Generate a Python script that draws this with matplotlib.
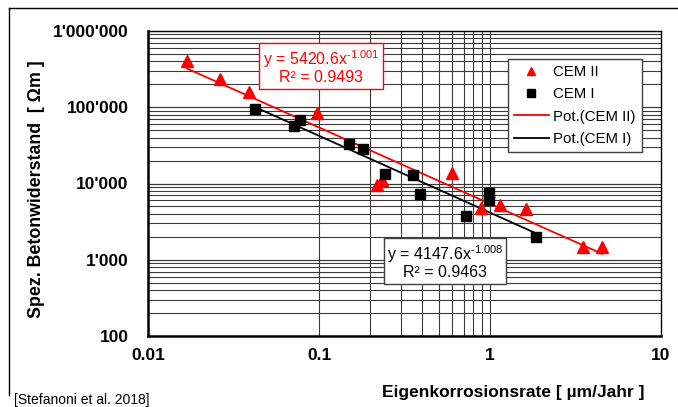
import numpy as np
import matplotlib
matplotlib.use("Agg")
import matplotlib.pyplot as plt
from matplotlib.lines import Line2D
from matplotlib.ticker import FixedLocator, NullLocator

plt.rcParams['font.family'] = ['Liberation Sans', 'DejaVu Sans']
plt.rcParams['mathtext.fontset'] = 'custom'
plt.rcParams['mathtext.rm'] = 'Liberation Sans'
plt.rcParams['mathtext.it'] = 'Liberation Sans'

# CEM II (red triangles)
cem2_x = [0.0169, 0.0264, 0.039, 0.097, 0.218, 0.233, 0.600, 0.886, 1.14, 1.62, 3.50, 4.52]
cem2_y = [404000, 234000, 158000, 84000, 9600, 11100, 13700, 4770, 5200, 4600, 1470, 1470]
# CEM I (black squares)
cem1_x = [0.0423, 0.0714, 0.0774, 0.150, 0.181, 0.243, 0.355, 0.390, 0.724, 0.986, 0.986, 1.86]
cem1_y = [94900, 56800, 68000, 33000, 28300, 13300, 12900, 7300, 3750, 7500, 6080, 1990]

# power fits y = a * x^b
fit2_a, fit2_b, fit2_r2 = 5420.6, -1.001, 0.9493
fit1_a, fit1_b, fit1_r2 = 4147.6, -1.008, 0.9463

x_ticks = [0.01, 0.1, 1, 10]
x_tick_labels = ["0.01", "0.1", "1", "10"]
y_ticks = [100, 1000, 10000, 100000, 1000000]
y_tick_labels = ["100", "1'000", "10'000", "100'000", "1'000'000"]

W, H = 678, 407
fig = plt.figure(figsize=(W / 100, H / 100), dpi=100)
L, R, T, B = 148, 661, 31, 336
ax = fig.add_axes([L / W, 1 - B / H, (R - L) / W, (B - T) / H])
ax.set_xscale('log')
ax.set_yscale('log')
ax.set_xlim(0.01, 10)
ax.set_ylim(100, 1e6)

# gridlines
gcol = '#3a3a3a'
for dec in [100, 1000, 10000, 100000]:
    for m in range(1, 11):
        ax.axhline(dec * m, color=gcol, lw=0.8, zorder=1)
for m in range(1, 11):
    ax.axvline(0.1 * m, color=gcol, lw=0.8, zorder=1)

# fits
xf2 = np.geomspace(min(cem2_x), max(cem2_x), 60)
ax.plot(xf2, fit2_a * xf2 ** fit2_b, color='#ff0000', lw=1.3, zorder=3, label='Pot.(CEM II)')
xf1 = np.geomspace(min(cem1_x), max(cem1_x), 60)
ax.plot(xf1, fit1_a * xf1 ** fit1_b, color='black', lw=1.3, zorder=3, label='Pot.(CEM I)')

ax.plot(cem2_x, cem2_y, linestyle='none', marker='^', ms=8, color='#ff0000', mec='#ff0000', zorder=4, label='CEM II')
ax.plot(cem1_x, cem1_y, linestyle='none', marker='s', ms=7.5, color='black', zorder=4, label='CEM I')

ax.xaxis.set_major_locator(FixedLocator(x_ticks))
ax.xaxis.set_minor_locator(NullLocator())
ax.set_xticklabels(x_tick_labels)
ax.yaxis.set_major_locator(FixedLocator(y_ticks))
ax.yaxis.set_minor_locator(NullLocator())
ax.set_yticklabels(y_tick_labels)
ax.tick_params(axis='both', length=0, labelsize=12.5)
ax.tick_params(axis='x', pad=9)
ax.tick_params(axis='y', pad=14)
for lab in ax.get_xticklabels() + ax.get_yticklabels():
    lab.set_fontweight('bold')

for s in ax.spines.values():
    s.set_color('black')
    s.set_linewidth(1.0)
ax.spines['left'].set_linewidth(1.8)
ax.spines['bottom'].set_linewidth(1.8)

ax.set_xlabel('Eigenkorrosionsrate [ µm/Jahr ]', fontsize=12.5, fontweight='bold')
ax.xaxis.set_label_coords((513 - L) / (R - L), -(385 - B) / (B - T))
ax.set_ylabel('Spez. Betonwiderstand  [ Ωm ]', fontsize=12.8, fontweight='bold')
ax.yaxis.set_label_coords(-(L - 45) / (R - L), (B - 189) / (B - T))


def eq_text(a, b, r2):
    return 'y = %.1fx$^{\u2010%.3f}$\nR² = %.4f' % (a, abs(b), r2)


# equation boxes
ax.text((321 - L) / (R - L), (B - 67) / (B - T), eq_text(fit2_a, fit2_b, fit2_r2),
        transform=ax.transAxes, ha='center', va='center', color='#ff0000', fontsize=11.5,
        linespacing=1.0, zorder=6,
        bbox=dict(boxstyle='square,pad=0.2', fc='white', ec='#ff0000', lw=1.0))
ax.text((445 - L) / (R - L), (B - 262) / (B - T), eq_text(fit1_a, fit1_b, fit1_r2),
        transform=ax.transAxes, ha='center', va='center', color='black', fontsize=11.5,
        linespacing=1.0, zorder=6,
        bbox=dict(boxstyle='square,pad=0.2', fc='white', ec='#404040', lw=1.0))

handles, labels = ax.get_legend_handles_labels()
order = [2, 3, 0, 1]
leg = ax.legend([handles[i] for i in order], [labels[i] for i in order],
                loc='upper left', bbox_to_anchor=((508 - L) / (R - L), (B - 59) / (B - T)),
                fontsize=10.8, frameon=True, fancybox=False, edgecolor='#404040',
                framealpha=1, borderpad=0.4, labelspacing=0.55, handlelength=2.3,
                handletextpad=0.3, borderaxespad=0)
leg.get_frame().set_linewidth(1.0)
leg.set_zorder(7)
for h in leg.legend_handles[:2]:
    h.set_markersize(6)

# outer border
fig.add_artist(Line2D([9 / W, 9 / W], [1 - 8 / H, 1 - 395 / H], color='black', lw=1.0))
fig.add_artist(Line2D([9 / W, 1.0], [1 - 8 / H, 1 - 8 / H], color='black', lw=1.0))

fig.text(14 / W, 1 - 400 / H, '[Stefanoni et al. 2018]', fontsize=10, ha='left', va='center')

fig.savefig('out.png', dpi=100)
